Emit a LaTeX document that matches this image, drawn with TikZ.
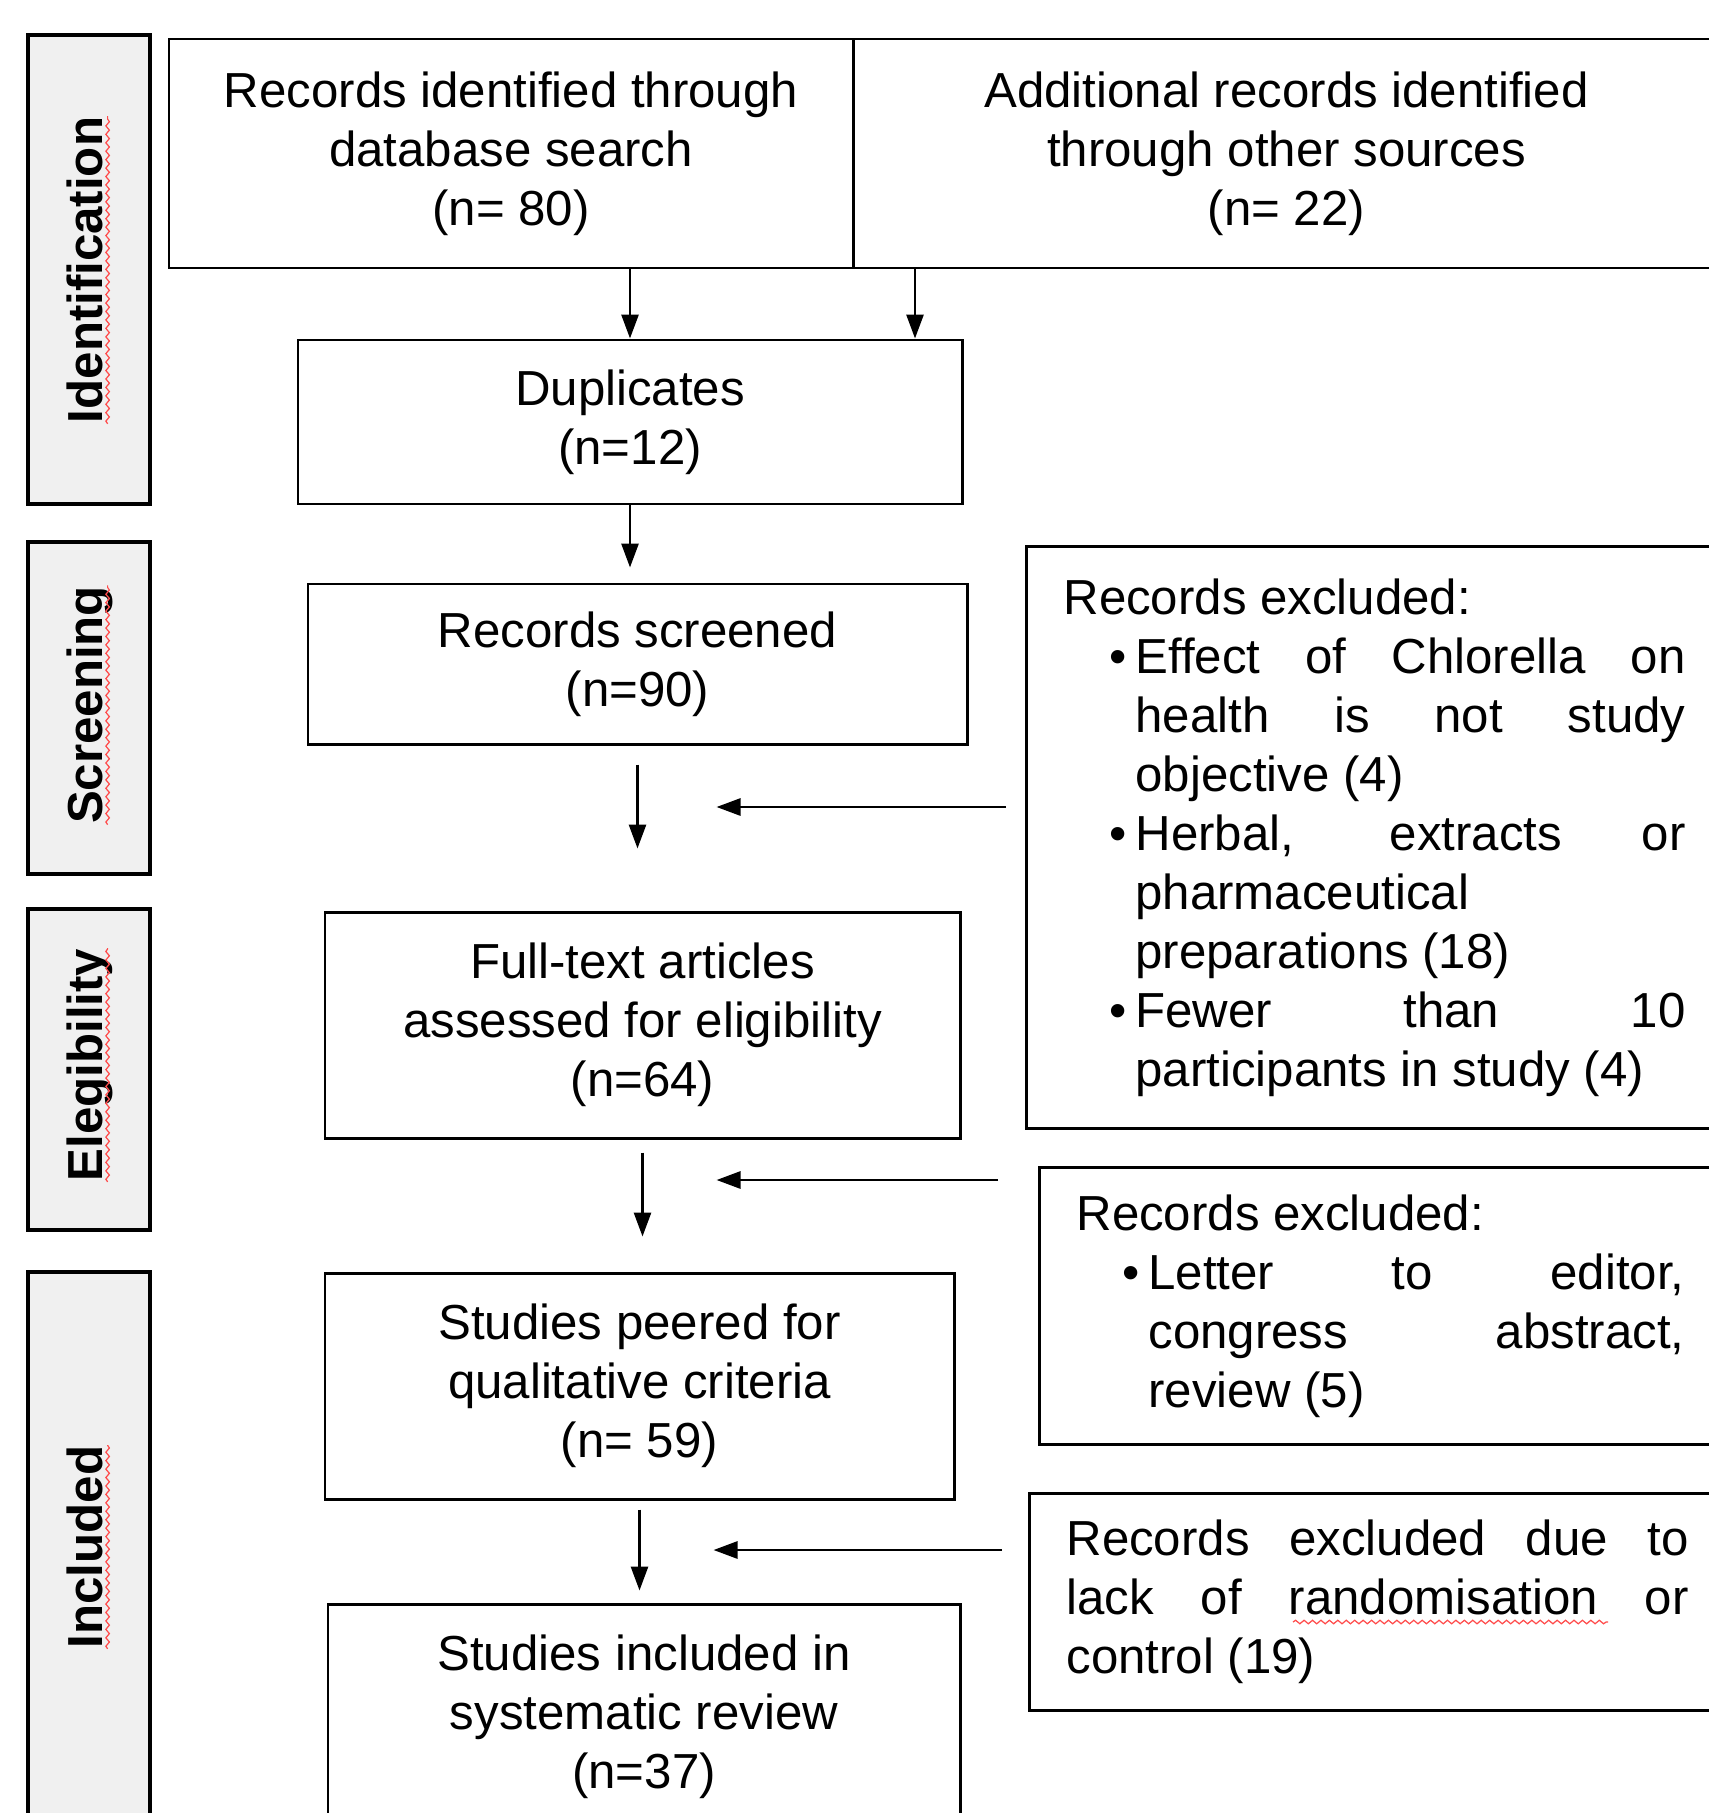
\documentclass[tikz,border=0pt]{standalone}
\usepackage{fontspec}
\setmainfont{Liberation Sans}
\usetikzlibrary{positioning}
\usetikzlibrary{arrows.meta}
\usetikzlibrary{decorations.pathmorphing}
\tikzset{
    stage/.style = {rectangle, draw=black, line width=1pt, fill=gray!12, minimum width=1.22cm},
    stagetext/.style = {rotate=90, anchor=base, inner sep=0pt, font=\fontsize{14}{16.8}\selectfont\bfseries},
    mybox/.style = {rectangle, draw=black, line width=0.85pt, align=center, font=\fontsize{14}{16.8}\selectfont},
    exbox/.style = {rectangle, draw=black, line width=0.85pt, align=justify, anchor=north west, inner xsep=0.37cm, font=\fontsize{14}{16.8}\selectfont},
    edgen/.style = {-{Triangle[length=0.24cm,width=0.17cm]}, line width=0.8pt},
    redwave/.style = {draw=red!70, line width=0.35pt, decorate, decoration={snake, amplitude=0.5pt, segment length=2.4pt}}
}
\tolerance=10000
\hbadness=10000
\hyphenpenalty=10000
% bullet item with hanging indent
\newcommand\bul{\par\hangindent=0.72cm\hangafter=1\noindent\hspace*{0.46cm}\makebox[0.26cm][l]{\textbullet}}

\begin{document}
\begin{tikzpicture}
  \path[use as bounding box, fill=white] (0,0) rectangle (17.08,-18.13);

  % stages
  \node[stage, minimum height=4.69cm] (idbox) at (0.89,-2.695) {};
  \node[stage, minimum height=3.32cm] (scbox) at (0.89,-7.08) {};
  \node[stage, minimum height=3.21cm] (elbox) at (0.89,-10.695) {};
  \node[stage, minimum height=5.50cm] (inbox) at (0.89,-15.47) {};
  \node[stagetext] (idtext) at (1.02,-2.70) {Identification};
  \node[stagetext] (sctext) at (1.02,-7.05) {Screening};
  \node[stagetext] (eltext) at (1.02,-10.65) {Elegibility};
  \node[stagetext] (intext) at (1.02,-15.47) {Included};
  \foreach \t in {idtext,sctext,eltext,intext}
    \draw[redwave] ([xshift=1.6pt]\t.base west) -- ([xshift=1.6pt]\t.base east);

  % main column
  \node[mybox, minimum width=6.84cm, minimum height=2.29cm] (recdb) at (5.11,-1.535) {Records identified through\\ database search\\ (n= 80)};
  \node[mybox, minimum width=8.67cm, minimum height=2.29cm] (recoth) at (12.865,-1.535) {Additional records identified\\ through other sources\\ (n= 22)};
  \node[mybox, minimum width=6.64cm, minimum height=1.64cm] (dup) at (6.30,-4.22) {Duplicates\\ (n=12)};
  \node[mybox, minimum width=6.59cm, minimum height=1.60cm] (scr) at (6.375,-6.64) {Records screened\\ (n=90)};
  \node[mybox, minimum width=6.35cm, minimum height=2.26cm] (full) at (6.425,-10.25) {Full-text articles\\ assessed for eligibility\\ (n=64)};
  \node[mybox, minimum width=6.29cm, minimum height=2.26cm] (peer) at (6.395,-13.86) {Studies peered for\\ qualitative criteria\\ (n= 59)};
  \node[mybox, minimum width=6.32cm, minimum height=2.25cm] (incl) at (6.44,-17.165) {Studies included in\\ systematic review\\ (n=37)};

  % exclusions
  \node[exbox, text width=6.22cm, minimum height=5.82cm] (ex1) at (10.25,-5.45) {Records excluded:
    \bul Effect of Chlorella on\linebreak health is not study\linebreak objective (4)
    \bul Herbal, extracts or\linebreak pharmaceutical\newline preparations (18)
    \bul Fewer than 10\linebreak participants~in~study~(4)\par};
  \node[exbox, text width=6.08cm, minimum height=2.77cm] (ex2) at (10.38,-11.66) {Records excluded:
    \bul Letter to editor,\linebreak congress abstract,\linebreak review (5)\par};
  \node[exbox, text width=6.22cm, minimum height=2.17cm] (ex3) at (10.28,-14.92) {Records excluded due to\linebreak lack of randomisation or\linebreak control (19)};
  \coordinate (w1) at (12.93,-16.22);
  \coordinate (w2) at (16.08,-16.22);
  \draw[redwave] (w1) -- (w2);

  % arrows
  \coordinate (k) at (9.15,0);
  \coordinate (h1) at (0,-8.07);
  \coordinate (h2) at (0,-11.80);
  \coordinate (h3) at (0,-15.50);
  \draw[edgen] (recdb.south -| dup.north) -- (dup.north);
  \draw[edgen] (recoth.south -| k) -- (dup.north -| k);
  \draw[edgen, shorten >=1.5mm] (dup.south) -- (dup.south |- scr.north);
  \draw[edgen, shorten <=1.9mm, shorten >=6.2mm] (scr.south) -- (scr.south |- full.north);
  \draw[edgen, shorten <=1.3mm, shorten >=3.5mm] (full.south) -- (full.south |- peer.north);
  \draw[edgen, shorten <=0.9mm, shorten >=1.2mm] (peer.south) -- (peer.south |- incl.north);
  \draw[edgen, shorten <=1.9mm, shorten >=0.79cm] (ex1.west |- h1) -- (scr.south |- h1);
  \draw[edgen, shorten <=4.0mm, shorten >=0.74cm] (ex2.west |- h2) -- (full.south |- h2);
  \draw[edgen, shorten <=2.6mm, shorten >=0.74cm] (ex3.west |- h3) -- (peer.south |- h3);
\end{tikzpicture}
\end{document}
